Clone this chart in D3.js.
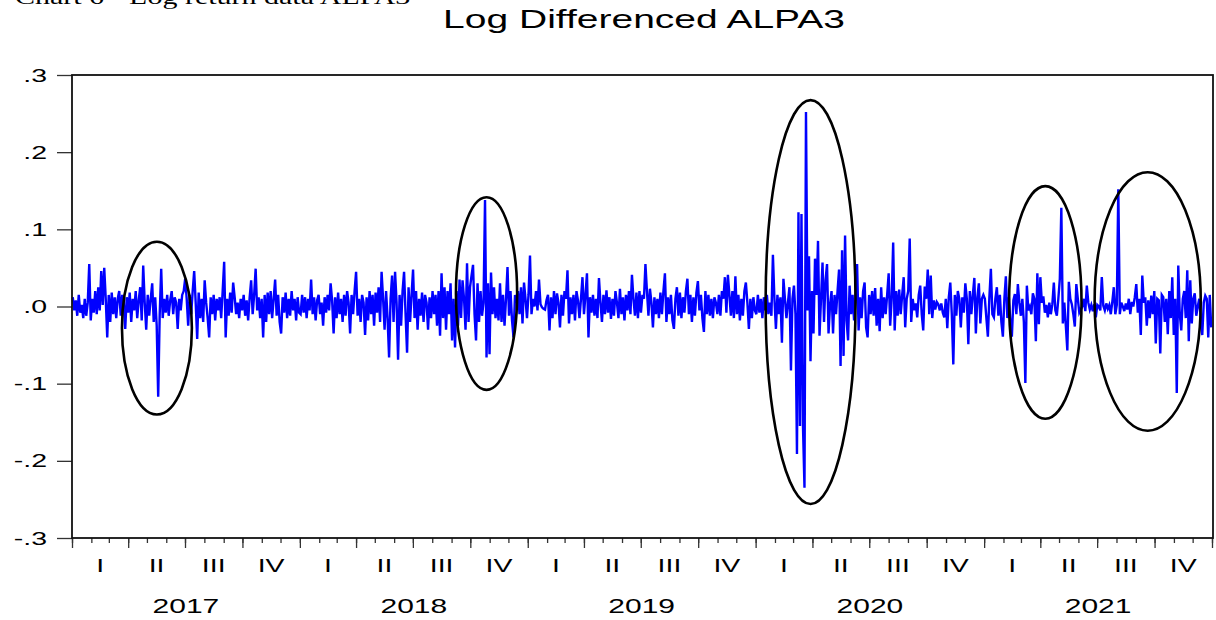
<!DOCTYPE html>
<html>
<head>
<meta charset="utf-8">
<title>Log Differenced ALPA3</title>
<script src="https://d3js.org/d3.v7.min.js"></script>
<style>
body { margin: 0; background: #fff; }
.line { fill: none; stroke: #0000ff; stroke-width: 2.4; }
.ring { fill: none; stroke: #000; stroke-width: 2.6; }
.frame { fill: none; stroke: #111; stroke-width: 1.8; }
.axis line { stroke: #333; stroke-width: 1.3; }
.axis path { display: none; }
text { font-family: "Liberation Sans", Arial, sans-serif; fill: #000; }
</style>
</head>
<body>
<script>
var yr2017 = [.012,-.005,.008,-.012,.015,-.008,.002,-.015,.010,-.012,
  .005,.055,-.018,.010,-.008,.020,-.010,.025,-.005,.046,
  .002,.050,.010,-.040,.015,-.020,.018,-.010,.012,-.015,
  .010,.020,-.012,.015,.005,-.029,.012,-.008,.018,-.020,
  .010,-.005,.020,-.015,.008,.025,-.018,.053,.005,-.030,
  .015,-.012,.010,.030,-.020,.012,-.025,-.117,-.010,.049,
  -.015,.010,-.008,.015,-.012,.008,.020,-.010,.012,.005,
  -.029,.010,-.005,.015,.020,.036,.010,-.025,.015,-.010,
  .020,.046,.005,-.042,.018,-.015,.010,-.020,.034,.005,
  -.015,-.040,.012,-.010,.015,-.018,.010,-.005,.012,-.015,
  .020,.058,-.040,.010,-.012,.018,-.008,.031,.012,-.010,
  .005,-.015,.010,-.005,.015,-.012,.008,-.018,.012,.034,
  -.010,.015,.049,-.005,.012,-.015,.010,-.040,.015,-.020,
  .018,-.010,.020,-.015,.010,.035,-.012,.015,-.020,-.035,
  .012,-.008,.018,-.015,.010,-.012,.020,-.005,.010,-.018,
  .012,-.008];
var yr2018 = [-.010,.015,-.008,.012,-.015,.010,-.005,.035,-.010,.012,
  -.018,.008,.015,-.010,.005,-.025,.012,-.008,.015,-.005,
  .030,.008,-.035,.012,-.015,.018,-.010,.010,-.020,.015,
  -.012,.020,.005,-.035,.015,-.010,.020,.045,-.012,.010,
  -.020,.015,.005,-.037,.012,-.018,.020,-.010,.015,-.025,
  .018,-.008,.025,-.020,.045,.010,-.030,.020,-.015,-.066,
  .010,.040,-.020,.045,.005,-.069,.015,-.025,.020,.045,
  -.010,-.060,.025,-.020,.015,.048,-.015,.020,-.030,.010,
  -.012,.018,-.020,.015,.005,-.030,.012,-.015,.020,-.010,
  .015,-.025,.020,-.038,.043,-.015,.025,-.030,.020,-.010,
  .030,-.044,.010,-.053,.020,-.025,.035,-.015,.034,.010,
  -.030,.056,-.020,.025,.040,.054,-.010,-.044,.030,-.020,
  .020,-.012,.005,.138,-.066,.030,-.062,.044,-.010,.025,
  -.015,.010,-.018,.030,-.020,.015,-.025,.010,.051,-.012,
  .020,-.018,-.040,.015,.005,.020,-.010,.025,-.022,.031,
  .010,-.015];
var yr2019 = [.015,.066,-.010,.010,.000,.020,-.005,.035,.003,-.001,
  -.003,-.004,.008,.015,-.031,.012,-.015,.020,-.010,.017,
  .005,-.027,.015,-.012,.020,.010,.047,-.022,.012,-.010,
  .015,-.018,.020,.008,-.015,.010,.038,-.010,.015,.043,
  -.040,.012,-.008,.015,-.012,.010,-.015,.037,.005,-.020,
  .015,-.010,.021,-.008,.012,-.016,.010,-.012,.020,.005,
  -.015,.023,-.010,.012,-.018,.015,-.005,.020,-.010,.041,
  .010,-.012,.018,-.015,.020,-.008,.015,.010,.055,.020,
  -.012,.023,.005,-.027,.012,-.010,.010,-.015,.018,-.010,
  .020,.043,-.020,.012,-.010,.015,-.018,-.029,.010,.025,
  -.012,.018,-.015,.012,-.008,.020,.036,-.010,.015,-.020,
  .012,-.012,.018,.033,-.005,.015,-.015,-.033,.020,-.010,
  .015,-.012,.010,-.015,.012,.005,-.010,.015,-.012,.020,
  .010,.038,-.008,.041,.015,-.012,.020,-.015,.039,-.010,
  .015,-.018,.010,-.012,.020,.031,.005,-.029,.010,-.015,
  .012,-.005];
var yr2020 = [-.010,.015,-.008,.010,-.015,.012,-.005,.015,-.010,.005,
  -.012,.067,.010,-.029,.015,-.010,.012,-.047,.036,.010,
  -.015,.005,.025,-.083,.010,.027,-.010,-.191,.122,-.155,
  .120,-.155,-.235,.252,-.005,.065,-.071,.020,-.035,.062,
  .015,.085,-.038,.010,.057,-.020,.034,.055,-.035,.002,
  .020,-.035,.015,-.010,.020,.048,-.077,.073,-.064,.092,
  -.018,-.044,.027,-.010,.015,-.018,.010,.055,-.031,.012,
  -.015,.020,.031,-.027,-.040,.015,-.010,.020,-.012,.024,
  -.025,.010,-.032,.025,-.015,.012,-.010,.015,.043,-.025,
  .010,.083,-.031,.020,-.012,.022,-.010,.015,.038,-.027,
  .010,.020,.088,-.020,.010,-.005,.004,-.014,.015,.027,
  -.010,-.031,.026,.010,.048,-.010,.040,-.015,.008,-.004,
  .006,.003,-.005,.004,-.008,-.014,.010,-.028,.012,.031,
  -.010,-.075,.015,-.012,.020,.010,-.027,.012,-.008,.030,
  .010,-.049,.020,-.010,.015,.037,-.035,.012,.030,-.022,
  .010,.015];
var yr2021 = [.010,-.015,-.039,.012,.049,-.010,-.014,.010,.025,-.012,
  .015,-.020,-.039,.010,.039,-.015,.012,-.020,-.039,.008,
  .016,-.010,.029,.005,-.012,.010,-.020,-.099,.027,-.005,
  .000,-.010,.017,.010,-.045,.043,-.023,.038,.005,.013,
  -.008,.002,-.014,.005,-.010,.003,.031,-.005,-.012,.010,
  .036,.128,-.022,.005,-.025,-.057,.032,.010,.003,-.010,
  -.026,.029,.010,-.008,-.004,.000,.010,-.006,.027,.005,
  -.004,.002,-.006,.003,-.014,.002,.000,-.005,.038,.001,
  -.005,.004,-.003,.002,-.010,.006,.025,-.010,.002,.152,
  -.010,.005,.000,-.006,.004,-.004,.010,-.010,.006,.000,
  .012,.029,-.008,.010,-.037,.040,.005,.012,-.025,.008,
  -.015,.014,-.010,.020,-.048,.010,.008,-.061,.015,.012,
  -.020,.010,-.036,.020,-.015,.038,-.037,.010,-.112,.053,
  -.010,-.031,.010,.020,-.015,.047,-.045,.034,-.022,.010,
  .017,-.012,.000,.010,-.015,-.037,.005,.014,.010,-.040,
  .015,-.027];

var years = [2017, 2018, 2019, 2020, 2021];
var series = [yr2017, yr2018, yr2019, yr2020, yr2021];
var yTicks = [-.3, -.2, -.1, 0, .1, .2, .3];
var yTickLabels = ["-.3", "-.2", "-.1", ".0", ".1", ".2", ".3"];
var quarterLabels = ["I", "II", "III", "IV"];
// circled episodes: [from, to, top value, bottom value]
var rings = [
  ["2017-03-22", "2017-07-12", .084, -.140],
  ["2018-09-08", "2018-12-15", .1416, -.108],
  ["2020-01-17", "2020-06-09", .2675, -.256],
  ["2021-02-10", "2021-06-06", .156, -.1455],
  ["2021-06-27", "2021-12-14", .174, -.161]
];

var W = 1216, H = 620;
var plotL = 72, plotR = 1212, plotT = 75, plotB = 538;
var SX = 1.5; // the picture is stretched sideways, so is its lettering
var parse = d3.timeParse("%Y-%m-%d");

var data = [];
years.forEach(function(yr, k) {
  var vals = series[k];
  var t0 = new Date(yr, 0, 1), t1 = new Date(yr + 1, 0, 1);
  var step = (t1 - t0) / vals.length;
  vals.forEach(function(v, i) {
    data.push({date: new Date(+t0 + (i + 0.5) * step), value: v});
  });
});

var x = d3.scaleTime()
    .domain([new Date(2017, 0, 1), new Date(2022, 0, 1)])
    .range([plotL, plotR]);
var y = d3.scaleLinear()
    .domain([-.3, .3])
    .range([plotB, plotT]);

var svg = d3.select("body").append("svg")
    .attr("width", W)
    .attr("height", H);

// caption of the page, cut by the top edge
svg.append("text")
    .attr("transform", "translate(15,4) scale(1.5,1)")
    .style("font-family", "'Liberation Serif', 'Times New Roman', serif")
    .style("font-size", "20px")
    .text("Chart 6 - Log return data ALPA3");

// title
svg.append("text")
    .attr("transform", "translate(644,28) scale(1.56,1)")
    .attr("text-anchor", "middle")
    .style("font-size", "25px")
    .text("Log Differenced ALPA3");

// y axis
var gy = svg.append("g")
    .attr("class", "axis")
    .attr("transform", "translate(" + plotL + ",0)")
    .call(d3.axisLeft(y).tickValues(yTicks).tickSize(15).tickPadding(10)
      .tickFormat(function(d, i) { return yTickLabels[i]; }));
gy.selectAll("text")
    .attr("x", -25 / SX)
    .attr("transform", "scale(" + SX + ",1)")
    .style("font-size", "19px");

// month and quarter ticks
svg.append("g")
    .attr("class", "axis")
    .attr("transform", "translate(0," + plotB + ")")
    .call(d3.axisBottom(x).ticks(d3.timeMonth.every(1)).tickSize(5).tickFormat(""));
svg.append("g")
    .attr("class", "axis")
    .attr("transform", "translate(0," + plotB + ")")
    .call(d3.axisBottom(x).ticks(d3.timeMonth.every(3)).tickSize(10).tickFormat(""));

// quarter and year labels
var quarters = [];
years.forEach(function(yr) {
  quarterLabels.forEach(function(q, k) {
    var a = new Date(yr, k * 3, 1), b = new Date(yr, k * 3 + 3, 1);
    quarters.push({label: q, mid: new Date((+a + +b) / 2)});
  });
});
svg.append("g").selectAll("text")
  .data(quarters)
  .enter().append("text")
    .attr("transform", function(d) { return "translate(" + x(d.mid) + ",572) scale(" + SX + ",1)"; })
    .attr("text-anchor", "middle")
    .style("font-size", "19px")
    .text(function(d) { return d.label; });

svg.append("g").selectAll("text")
  .data(years)
  .enter().append("text")
    .attr("transform", function(d) {
      var mid = new Date((+new Date(d, 0, 1) + +new Date(d + 1, 0, 1)) / 2);
      return "translate(" + x(mid) + ",613) scale(" + SX + ",1)";
    })
    .attr("text-anchor", "middle")
    .style("font-size", "20px")
    .text(function(d) { return d; });

// series
var line = d3.line()
    .x(function(d) { return x(d.date); })
    .y(function(d) { return y(d.value); });

svg.append("path")
    .datum(data)
    .attr("class", "line")
    .attr("d", line);

// frame
svg.append("rect")
    .attr("class", "frame")
    .attr("x", plotL).attr("y", plotT)
    .attr("width", plotR + 1 - plotL).attr("height", plotB - plotT);

// rings round the volatile stretches
svg.append("g").selectAll("ellipse")
  .data(rings)
  .enter().append("ellipse")
    .attr("class", "ring")
    .attr("cx", function(d) { return (x(parse(d[0])) + x(parse(d[1]))) / 2; })
    .attr("rx", function(d) { return (x(parse(d[1])) - x(parse(d[0]))) / 2; })
    .attr("cy", function(d) { return (y(d[2]) + y(d[3])) / 2; })
    .attr("ry", function(d) { return (y(d[3]) - y(d[2])) / 2; });
</script>
</body>
</html>
